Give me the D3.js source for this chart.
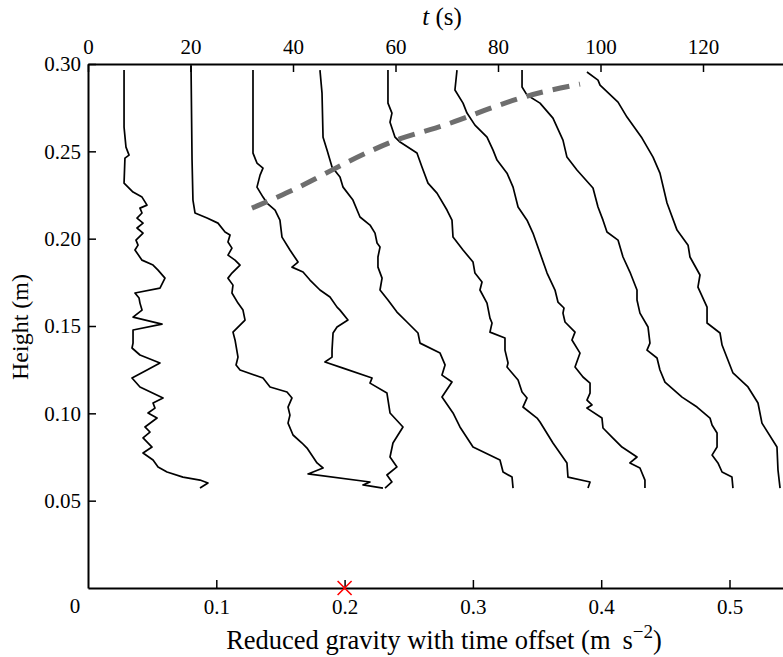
<!DOCTYPE html>
<html><head><meta charset="utf-8">
<script src="https://cdn.jsdelivr.net/npm/d3@7"></script>
<style>
html,body{margin:0;padding:0;background:#fff;}
svg{display:block;font-family:"Liberation Serif","Times New Roman",serif;}
</style></head>
<body>
<svg id="chart" width="783" height="657"></svg>
<script>
// ---- data (reduced gravity with offset [m s^-2], height [m]) ----
const profile1 = [[0.0281,0.2965],[0.0281,0.2639],[0.0296,0.2524],[0.0320,0.2478],[0.0288,0.2461],[0.0281,0.2318],[0.0351,0.2267],[0.0421,0.2238],[0.0460,0.2192],[0.0405,0.2175],[0.0421,0.2147],[0.0382,0.2118],[0.0429,0.2089],[0.0382,0.2061],[0.0429,0.2032],[0.0374,0.1992],[0.0390,0.1963],[0.0366,0.1935],[0.0421,0.1877],[0.0507,0.1849],[0.0546,0.1820],[0.0600,0.1774],[0.0561,0.1717],[0.0366,0.1689],[0.0398,0.1660],[0.0405,0.1631],[0.0421,0.1591],[0.0351,0.1551],[0.0577,0.1511],[0.0351,0.1477],[0.0351,0.1402],[0.0343,0.1374],[0.0405,0.1334],[0.0561,0.1288],[0.0460,0.1248],[0.0343,0.1202],[0.0405,0.1151],[0.0585,0.1088],[0.0507,0.1059],[0.0522,0.1030],[0.0468,0.1002],[0.0538,0.0973],[0.0444,0.0922],[0.0483,0.0893],[0.0429,0.0859],[0.0499,0.0807],[0.0429,0.0773],[0.0507,0.0733],[0.0546,0.0693],[0.0616,0.0664],[0.0740,0.0635],[0.0873,0.0618],[0.0935,0.0601],[0.0873,0.0572]];
const profile2 = [[0.0803,0.2990],[0.0811,0.2450],[0.0818,0.2221],[0.0834,0.2147],[0.0928,0.2118],[0.1013,0.2089],[0.1068,0.2038],[0.1107,0.2021],[0.1091,0.1981],[0.1122,0.1946],[0.1091,0.1906],[0.1146,0.1877],[0.1185,0.1849],[0.1122,0.1803],[0.1091,0.1774],[0.1130,0.1734],[0.1122,0.1689],[0.1169,0.1631],[0.1208,0.1591],[0.1224,0.1534],[0.1130,0.1465],[0.1146,0.1420],[0.1169,0.1322],[0.1154,0.1277],[0.1185,0.1248],[0.1364,0.1202],[0.1419,0.1151],[0.1551,0.1122],[0.1590,0.1088],[0.1559,0.1036],[0.1574,0.0990],[0.1559,0.0944],[0.1598,0.0876],[0.1668,0.0830],[0.1707,0.0801],[0.1754,0.0750],[0.1785,0.0716],[0.1832,0.0687],[0.1715,0.0653],[0.2198,0.0607],[0.2143,0.0590],[0.2299,0.0572]];
const profile3 = [[0.1286,0.2965],[0.1286,0.2490],[0.1317,0.2433],[0.1364,0.2404],[0.1341,0.2364],[0.1317,0.2295],[0.1364,0.2238],[0.1395,0.2204],[0.1458,0.2164],[0.1496,0.2106],[0.1512,0.2009],[0.1574,0.1935],[0.1637,0.1866],[0.1590,0.1837],[0.1676,0.1809],[0.1730,0.1763],[0.1808,0.1706],[0.1886,0.1666],[0.1941,0.1608],[0.1964,0.1591],[0.2026,0.1534],[0.1941,0.1494],[0.1910,0.1460],[0.1902,0.1362],[0.1902,0.1322],[0.1847,0.1294],[0.1988,0.1259],[0.2214,0.1202],[0.2198,0.1173],[0.2330,0.1116],[0.2354,0.1002],[0.2455,0.0922],[0.2377,0.0830],[0.2354,0.0750],[0.2408,0.0693],[0.2330,0.0647],[0.2369,0.0607],[0.2315,0.0572]];
const profile4 = [[0.1808,0.2965],[0.1824,0.2833],[0.1832,0.2581],[0.1863,0.2507],[0.1902,0.2410],[0.1964,0.2353],[0.1988,0.2295],[0.2065,0.2221],[0.2120,0.2124],[0.2198,0.2078],[0.2237,0.2032],[0.2253,0.1975],[0.2276,0.1952],[0.2260,0.1895],[0.2260,0.1837],[0.2292,0.1774],[0.2276,0.1706],[0.2338,0.1649],[0.2408,0.1580],[0.2486,0.1523],[0.2572,0.1460],[0.2588,0.1402],[0.2744,0.1345],[0.2783,0.1277],[0.2759,0.1219],[0.2837,0.1179],[0.2759,0.1093],[0.2845,0.1002],[0.2899,0.0922],[0.3001,0.0807],[0.3211,0.0733],[0.3235,0.0664],[0.3305,0.0635],[0.3313,0.0572]];
const profile5 = [[0.2338,0.2965],[0.2338,0.2776],[0.2369,0.2719],[0.2354,0.2667],[0.2393,0.2581],[0.2432,0.2553],[0.2564,0.2490],[0.2603,0.2410],[0.2650,0.2318],[0.2720,0.2261],[0.2798,0.2164],[0.2837,0.2106],[0.2845,0.2009],[0.2923,0.1935],[0.3001,0.1866],[0.3016,0.1803],[0.3071,0.1752],[0.3055,0.1706],[0.3110,0.1631],[0.3133,0.1545],[0.3149,0.1517],[0.3133,0.1465],[0.3250,0.1431],[0.3250,0.1362],[0.3274,0.1288],[0.3266,0.1265],[0.3352,0.1191],[0.3383,0.1122],[0.3422,0.1088],[0.3390,0.1036],[0.3500,0.0973],[0.3523,0.0950],[0.3624,0.0830],[0.3733,0.0716],[0.3741,0.0635],[0.3913,0.0607],[0.3897,0.0572]];
const profile6 = [[0.2876,0.2965],[0.2860,0.2851],[0.2923,0.2776],[0.2954,0.2719],[0.3016,0.2650],[0.3110,0.2581],[0.3157,0.2507],[0.3188,0.2450],[0.3266,0.2375],[0.3313,0.2295],[0.3352,0.2181],[0.3422,0.2106],[0.3468,0.2032],[0.3523,0.1918],[0.3578,0.1803],[0.3640,0.1706],[0.3663,0.1637],[0.3710,0.1603],[0.3702,0.1574],[0.3718,0.1523],[0.3796,0.1465],[0.3772,0.1420],[0.3835,0.1345],[0.3796,0.1265],[0.3858,0.1208],[0.3913,0.1173],[0.3913,0.1116],[0.3889,0.1076],[0.3928,0.1048],[0.3889,0.1030],[0.4006,0.0973],[0.4014,0.0916],[0.4084,0.0864],[0.4162,0.0807],[0.4279,0.0750],[0.4224,0.0716],[0.4302,0.0687],[0.4341,0.0618],[0.4341,0.0572]];
const profile7 = [[0.3383,0.2965],[0.3383,0.2868],[0.3422,0.2822],[0.3523,0.2776],[0.3624,0.2690],[0.3702,0.2564],[0.3733,0.2467],[0.3811,0.2393],[0.3936,0.2290],[0.3975,0.2181],[0.4014,0.2106],[0.4045,0.2038],[0.4131,0.1992],[0.4170,0.1895],[0.4224,0.1809],[0.4279,0.1706],[0.4279,0.1649],[0.4302,0.1574],[0.4365,0.1494],[0.4380,0.1402],[0.4357,0.1362],[0.4435,0.1317],[0.4458,0.1248],[0.4497,0.1179],[0.4630,0.1093],[0.4747,0.1036],[0.4848,0.0973],[0.4864,0.0933],[0.4903,0.0887],[0.4903,0.0807],[0.4864,0.0761],[0.4910,0.0716],[0.4942,0.0664],[0.5019,0.0635],[0.5027,0.0572]];
const profile8 = [[0.3889,0.2954],[0.3975,0.2908],[0.3991,0.2879],[0.4131,0.2782],[0.4201,0.2696],[0.4318,0.2576],[0.4404,0.2467],[0.4458,0.2375],[0.4513,0.2204],[0.4591,0.2049],[0.4677,0.1963],[0.4692,0.1895],[0.4770,0.1792],[0.4754,0.1723],[0.4825,0.1608],[0.4825,0.1517],[0.4926,0.1460],[0.4942,0.1391],[0.5027,0.1231],[0.5144,0.1151],[0.5222,0.1059],[0.5253,0.0944],[0.5370,0.0807],[0.5378,0.0675],[0.5394,0.0572]];
const frontLine = [[0.1278,0.2175],[0.1551,0.2261],[0.1785,0.2347],[0.1988,0.2427],[0.2214,0.2507],[0.2432,0.2576],[0.2666,0.2622],[0.2899,0.2679],[0.3133,0.2748],[0.3367,0.2805],[0.3562,0.2845],[0.3835,0.2885]];
const marker = [0.2, 0];
const xTicks = [0.1, 0.2, 0.3, 0.4, 0.5];
const yTicks = [0.05, 0.10, 0.15, 0.20, 0.25, 0.30];
const tTicks = [0, 20, 40, 60, 80, 100, 120];
const profiles = [profile1, profile2, profile3, profile4, profile5, profile6, profile7, profile8];

// ---- layout ----
const svg = d3.select("#chart");
const x = d3.scaleLinear().domain([0, 0.55]).range([88, 88 + 0.55 * 1283]);
const t = d3.scaleLinear().domain([0, 137]).range([88, 88 + 137 * 5.125]);
const y = d3.scaleLinear().domain([0, 0.30]).range([588, 64]);

const line = d3.line().x(d => x(d[0])).y(d => y(d[1]));

svg.append("g").selectAll("path").data(profiles).join("path")
  .attr("d", line).attr("fill", "none").attr("stroke", "#000")
  .attr("stroke-width", 1.7).attr("stroke-linejoin", "round");

svg.append("path").datum(frontLine).attr("d", d3.line().x(d => x(d[0])).y(d => y(d[1])).curve(d3.curveBasis))
  .attr("fill", "none").attr("stroke", "#6e6e6e").attr("stroke-width", 5)
  .attr("stroke-dasharray", "17,10");

// axes
const fs = 21;
function styleAxis(g) {
  g.select(".domain").attr("stroke", "#000").attr("stroke-width", 2);
  g.selectAll(".tick line").attr("stroke", "#000").attr("stroke-width", 1.5);
  g.selectAll(".tick text").attr("font-size", fs).attr("font-family", "Liberation Serif").attr("fill", "#000");
}
svg.append("g").attr("transform", "translate(88,0)")
  .call(d3.axisLeft(y).tickValues(yTicks).tickFormat(d3.format(".2f")).tickSize(-8).tickSizeOuter(0).tickPadding(7))
  .call(styleAxis);
svg.append("g").attr("transform", "translate(0,588)")
  .call(d3.axisBottom(x).tickValues(xTicks).tickFormat(d3.format(".1f")).tickSize(-8).tickSizeOuter(0).tickPadding(11))
  .call(styleAxis);
svg.append("g").attr("transform", "translate(0,64)")
  .call(d3.axisTop(t).tickValues(tTicks).tickSize(-8).tickSizeOuter(0).tickPadding(10))
  .call(styleAxis);

// shared origin label
svg.append("text").attr("x", x(0) - 13).attr("y", 613).attr("text-anchor", "middle")
  .attr("font-size", fs).text("0");

// red marker
const mx = x(marker[0]), my = y(marker[1]), ms = 7;
svg.append("path").attr("d", `M${mx-ms},${my-ms}L${mx+ms},${my+ms}M${mx-ms},${my+ms}L${mx+ms},${my-ms}`)
  .attr("stroke", "#ff0000").attr("stroke-width", 1.6).attr("fill", "none");

// labels
const xl = svg.append("text").attr("x", 444).attr("y", 649).attr("text-anchor", "middle").attr("font-size", 26.5);
xl.append("tspan").text("Reduced gravity with time offset (m\u2009 s");
xl.append("tspan").attr("dy", -11).attr("font-size", 19).text("\u22122");
xl.append("tspan").attr("dy", 11).text(")");

svg.append("text").attr("transform", "translate(28,327) rotate(-90)").attr("text-anchor", "middle")
  .attr("font-size", 24).text("Height (m)");

const tl = svg.append("text").attr("x", 442).attr("y", 25).attr("text-anchor", "middle").attr("font-size", 25);
tl.append("tspan").attr("font-style", "italic").text("t");
tl.append("tspan").text(" (s)");
</script>
</body></html>
